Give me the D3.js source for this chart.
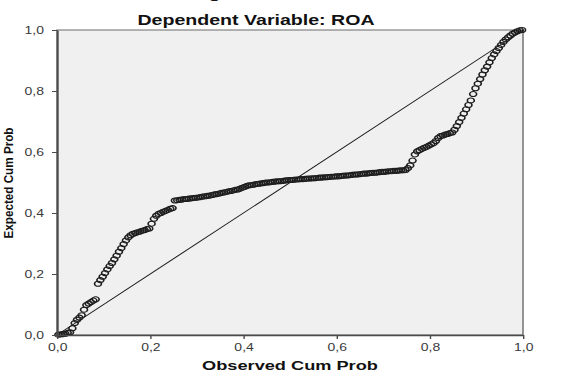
<!DOCTYPE html>
<html>
<head>
<meta charset="utf-8">
<script src="https://cdn.jsdelivr.net/npm/d3@7/dist/d3.min.js"></script>
<style>
  html, body { margin: 0; padding: 0; background: #ffffff; }
  svg { display: block; }
  text { font-family: "Liberation Sans", Arial, sans-serif; }
</style>
</head>
<body>
<div id="chart"></div>
<script>
// ---- Data ----
const titleText = "Normal P-P Plot of Regression Standardized Residual";
const subtitleText = "Dependent Variable: ROA";
const xAxisLabel = "Observed Cum Prob";
const yAxisLabel = "Expected Cum Prob";

const xTickValues = [0, 0.2, 0.4, 0.6, 0.8, 1.0];
const xTickLabels = ["0,0", "0,2", "0,4", "0,6", "0,8", "1,0"];
const yTickValues = [0, 0.2, 0.4, 0.6, 0.8, 1.0];
const yTickLabels = ["0,0", "0,2", "0,4", "0,6", "0,8", "1,0"];

const referenceLine = [[0, 0], [1, 1]];

const observedCumProb = [
  0.003,0.008,0.013,0.018,0.023,0.028,0.033,0.038,0.043,0.048,
  0.053,0.058,0.063,0.068,0.073,0.078,0.083,0.088,0.093,0.098,
  0.103,0.108,0.113,0.118,0.123,0.128,0.133,0.138,0.143,0.148,
  0.153,0.158,0.163,0.168,0.173,0.178,0.183,0.188,0.193,0.198,
  0.203,0.208,0.213,0.218,0.223,0.228,0.233,0.238,0.243,0.248,
  0.253,0.258,0.263,0.268,0.273,0.278,0.283,0.288,0.293,0.298,
  0.303,0.308,0.313,0.318,0.323,0.328,0.333,0.338,0.343,0.348,
  0.353,0.358,0.363,0.368,0.373,0.378,0.383,0.388,0.393,0.398,
  0.403,0.408,0.413,0.418,0.423,0.428,0.433,0.438,0.443,0.448,
  0.453,0.458,0.463,0.468,0.473,0.478,0.483,0.488,0.493,0.498,
  0.503,0.508,0.513,0.518,0.523,0.528,0.533,0.538,0.543,0.548,
  0.553,0.558,0.563,0.568,0.573,0.578,0.583,0.588,0.593,0.598,
  0.603,0.608,0.613,0.618,0.623,0.628,0.633,0.638,0.643,0.648,
  0.653,0.658,0.663,0.668,0.673,0.678,0.683,0.688,0.693,0.698,
  0.703,0.708,0.713,0.718,0.723,0.728,0.733,0.738,0.743,0.748,
  0.753,0.758,0.763,0.768,0.773,0.778,0.783,0.788,0.793,0.798,
  0.803,0.808,0.813,0.818,0.823,0.828,0.833,0.838,0.843,0.848,
  0.853,0.858,0.863,0.868,0.873,0.878,0.883,0.888,0.893,0.898,
  0.903,0.908,0.913,0.918,0.923,0.928,0.933,0.938,0.943,0.948,
  0.953,0.958,0.963,0.968,0.973,0.978,0.983,0.988,0.993,0.998
];

const expectedCumProb = [
  0.001,0.002,0.003,0.004,0.007,0.009,0.022,0.039,0.050,0.057,
  0.065,0.083,0.098,0.103,0.108,0.113,0.117,0.168,0.180,0.191,
  0.203,0.215,0.226,0.236,0.248,0.260,0.273,0.285,0.298,0.310,
  0.320,0.327,0.332,0.334,0.337,0.339,0.342,0.344,0.347,0.349,
  0.365,0.381,0.391,0.397,0.400,0.404,0.407,0.410,0.414,0.416,
  0.441,0.442,0.443,0.444,0.446,0.446,0.447,0.448,0.449,0.450,
  0.451,0.452,0.454,0.455,0.456,0.457,0.459,0.461,0.462,0.464,
  0.466,0.467,0.469,0.471,0.472,0.474,0.476,0.477,0.480,0.483,
  0.486,0.489,0.491,0.492,0.493,0.495,0.496,0.497,0.498,0.500,
  0.500,0.501,0.502,0.503,0.504,0.504,0.505,0.506,0.507,0.508,
  0.508,0.509,0.510,0.510,0.511,0.511,0.512,0.513,0.513,0.514,
  0.514,0.515,0.516,0.516,0.517,0.517,0.518,0.519,0.519,0.520,
  0.520,0.521,0.522,0.523,0.523,0.524,0.525,0.526,0.526,0.527,
  0.528,0.529,0.529,0.530,0.531,0.532,0.532,0.533,0.534,0.535,
  0.535,0.536,0.537,0.537,0.538,0.538,0.539,0.540,0.540,0.541,
  0.547,0.556,0.572,0.592,0.602,0.606,0.610,0.614,0.617,0.621,
  0.625,0.629,0.636,0.646,0.652,0.654,0.657,0.659,0.662,0.664,
  0.673,0.685,0.698,0.712,0.726,0.740,0.754,0.769,0.790,0.809,
  0.824,0.839,0.854,0.868,0.880,0.894,0.908,0.920,0.931,0.941,
  0.951,0.961,0.969,0.976,0.982,0.988,0.992,0.996,0.999,1.000
];

// ---- Layout ----
const W = 587, H = 377;
const SX = 1.4; // the reference picture is stretched horizontally

const svg = d3.select("#chart").append("svg")
  .attr("width", W).attr("height", H);

const g = svg.append("g").attr("transform", `scale(${SX},1)`);

const x = d3.scaleLinear().domain([0, 1]).range([57 / SX, 523 / SX]);
const y = d3.scaleLinear().domain([0, 1]).range([335, 30]);

// plot background
g.append("rect")
  .attr("x", x(0)).attr("y", y(1))
  .attr("width", x(1) - x(0)).attr("height", y(0) - y(1))
  .attr("fill", "#f0f0f0")
  .attr("stroke", "#6a6a6a")
  .attr("stroke-width", 1);

// diagonal reference line
g.append("line")
  .attr("x1", x(referenceLine[0][0])).attr("y1", y(referenceLine[0][1]))
  .attr("x2", x(referenceLine[1][0])).attr("y2", y(referenceLine[1][1]))
  .attr("stroke", "#1a1a1a")
  .attr("stroke-width", 0.9);

// points
const pts = observedCumProb.map((o, i) => ({ o: o, e: expectedCumProb[i] }));
g.append("g").selectAll("circle")
  .data(pts).join("circle")
  .attr("cx", d => x(d.o))
  .attr("cy", d => y(d.e))
  .attr("r", 2.5)
  .attr("fill", "none")
  .attr("stroke", "#1e1e1e")
  .attr("stroke-width", 1.1);

// axes
const xAxis = d3.axisBottom(x)
  .tickValues(xTickValues)
  .tickFormat((d, i) => xTickLabels[i])
  .tickSizeInner(4).tickSizeOuter(0).tickPadding(4.5);
const yAxis = d3.axisLeft(y)
  .tickValues(yTickValues)
  .tickFormat((d, i) => yTickLabels[i])
  .tickSizeInner(5 / SX).tickSizeOuter(0).tickPadding(5.7);

const gx = g.append("g").attr("transform", `translate(0,${y(0)})`).call(xAxis);
const gy = g.append("g").attr("transform", `translate(${x(0)},0)`).call(yAxis);

[gx, gy].forEach(a => {
  a.select(".domain").attr("stroke", "#4a4a4a").attr("stroke-width", 1.4);
  a.selectAll(".tick line").attr("stroke", "#4a4a4a").attr("stroke-width", 1);
  a.selectAll(".tick text")
    .attr("fill", "#3a3a3a")
    .style("font-family", '"Liberation Sans", Arial, sans-serif')
    .style("font-size", "10px");
});

// titles (top title is cut off at the top edge, as in the reference)
g.append("text")
  .attr("x", 256 / SX).attr("y", -2)
  .attr("text-anchor", "middle")
  .style("font-size", "14px").style("font-weight", "bold")
  .attr("fill", "#111")
  .text(titleText);

g.append("text")
  .attr("x", 256 / SX).attr("y", 25)
  .attr("text-anchor", "middle")
  .style("font-size", "14px").style("font-weight", "bold")
  .attr("fill", "#111")
  .text(subtitleText);

g.append("text")
  .attr("x", (x(0) + x(1)) / 2).attr("y", 370)
  .attr("text-anchor", "middle")
  .style("font-size", "13px").style("font-weight", "bold")
  .attr("fill", "#111")
  .text(xAxisLabel);

// y label (not stretched; appears condensed in reference)
svg.append("text")
  .attr("transform", "translate(13,183) rotate(-90)")
  .attr("text-anchor", "middle")
  .attr("textLength", 111)
  .attr("lengthAdjust", "spacingAndGlyphs")
  .style("font-size", "13.5px").style("font-weight", "bold")
  .attr("fill", "#111")
  .text(yAxisLabel);
</script>
</body>
</html>
